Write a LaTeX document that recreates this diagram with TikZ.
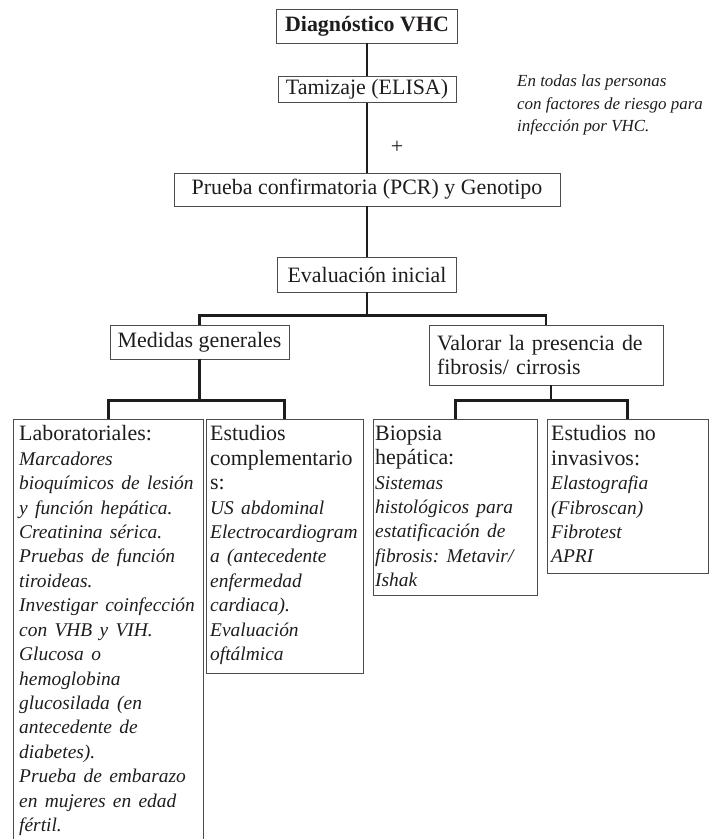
\documentclass[tikz,border=0pt]{standalone}
\usepackage{fontspec}
\setmainfont{Liberation Serif}
\usepackage{tikz}
\definecolor{inkgray}{rgb}{0.12,0.11,0.11}
\definecolor{framegray}{rgb}{0.3,0.3,0.3}
\newcommand{\itsz}{\fontsize{19.5}{24.5}\selectfont\itshape}

\begin{document}
\frenchspacing
\begin{tikzpicture}[x=1bp, y=-1bp,
    box/.style={rectangle, draw=framegray, line width=0.9bp, inner sep=0pt, text=inkgray, font=\fontsize{22}{24.5}\selectfont, align=center},
    list/.style={rectangle, inner xsep=4bp, inner ysep=6.5bp, anchor=north west, text=inkgray, font=\fontsize{22}{24.5}\selectfont, align=left},
    listframe/.style={draw=framegray, line width=0.9bp},
    conn/.style={line width=2.6bp, draw=inkgray}
]
    \useasboundingbox (0,0) rectangle (713,839);

    % Nodes
    \node[box, minimum width=181bp, minimum height=34bp, font=\fontsize{22}{24.5}\selectfont\bfseries] (diag) at (367,26) {Diagnóstico VHC};
    \node[box, minimum width=178bp, minimum height=26bp] (tam) at (367,89.5) {Tamizaje (ELISA)};
    \node[box, minimum width=386bp, minimum height=33bp] (prueba) at (367,189.5) {Prueba confirmatoria (PCR) y Genotipo};
    \node[box, minimum width=179bp, minimum height=35bp] (eval) at (367,274.5) {Evaluación inicial};
    \node[box, minimum width=179bp, minimum height=34bp] (medidas) at (199.5,342) {Medidas generales};
    \node[box, text width=218bp, minimum height=60bp, inner xsep=8bp, align=left] (valorar) at (546,355) {Valorar la presencia de\\fibrosis/ cirrosis};
    \node[text=inkgray, font=\fontsize{22}{24}\selectfont] (mas) at (397,147) {+};
    \node[text=inkgray, inner sep=0pt, anchor=north west, align=left, font=\fontsize{17}{22.5}\selectfont\itshape] (nota) at (517,75) {En todas las personas\\con factores de riesgo para\\infección por VHC.};

    \node[list, text width=178bp, inner xsep=6bp] (lab) at (13,419) {Laboratoriales:\\\itsz Marcadores\\bioquímicos de lesión\\y función hepática.\\Creatinina sérica.\\Pruebas de función\\tiroideas.\\Investigar coinfección\\con VHB y VIH.\\Glucosa o\\hemoglobina\\glucosilada (en\\antecedente de\\diabetes).\\Prueba de embarazo\\en mujeres en edad\\fértil.};
    \node[list, text width=149bp] (comp) at (206,419) {Estudios\\complementario\\s:\\\itsz US abdominal\\Electrocardiogram\\a (antecedente\\enfermedad\\cardiaca).\\Evaluación\\oftálmica};
    \node[list, text width=160bp, inner xsep=2bp] (biop) at (373,419) {Biopsia\\hepática:\\\itsz Sistemas\\histológicos para\\estatificación de\\fibrosis: Metavir/\\Ishak};
    \node[list, text width=153bp] (noinv) at (547,419) {Estudios no\\invasivos:\\\itsz Elastografia\\(Fibroscan)\\Fibrotest\\APRI};

    % Frames of the lists (fixed heights, text stays on top)
    \draw[listframe] (lab.north west) rectangle ++(190,440);
    \draw[listframe] (comp.north west) rectangle ++(157,254);
    \draw[listframe] (biop.north west) rectangle ++(164,176);
    \draw[listframe] (noinv.north west) rectangle ++(161,154);

    % Relations
    \draw[conn] (diag) -- (tam);
    \draw[conn] (tam) -- (prueba);
    \draw[conn] (prueba) -- (eval);
    \draw[conn] (eval.south) -- ++(0,23) -| (medidas.north);
    \draw[conn] (eval.south) -- ++(0,23) -| (valorar.north);
    \draw[conn] (medidas.south) -- ++(0,41) -| (lab.north);
    \draw[conn] (medidas.south) -- ++(0,41) -| (comp.north);
    \draw[conn] ([xshift=5bp]valorar.south) -- ++(0,15) -| (biop.north);
    \draw[conn] ([xshift=5bp]valorar.south) -- ++(0,15) -| (noinv.north);
\end{tikzpicture}
\end{document}
